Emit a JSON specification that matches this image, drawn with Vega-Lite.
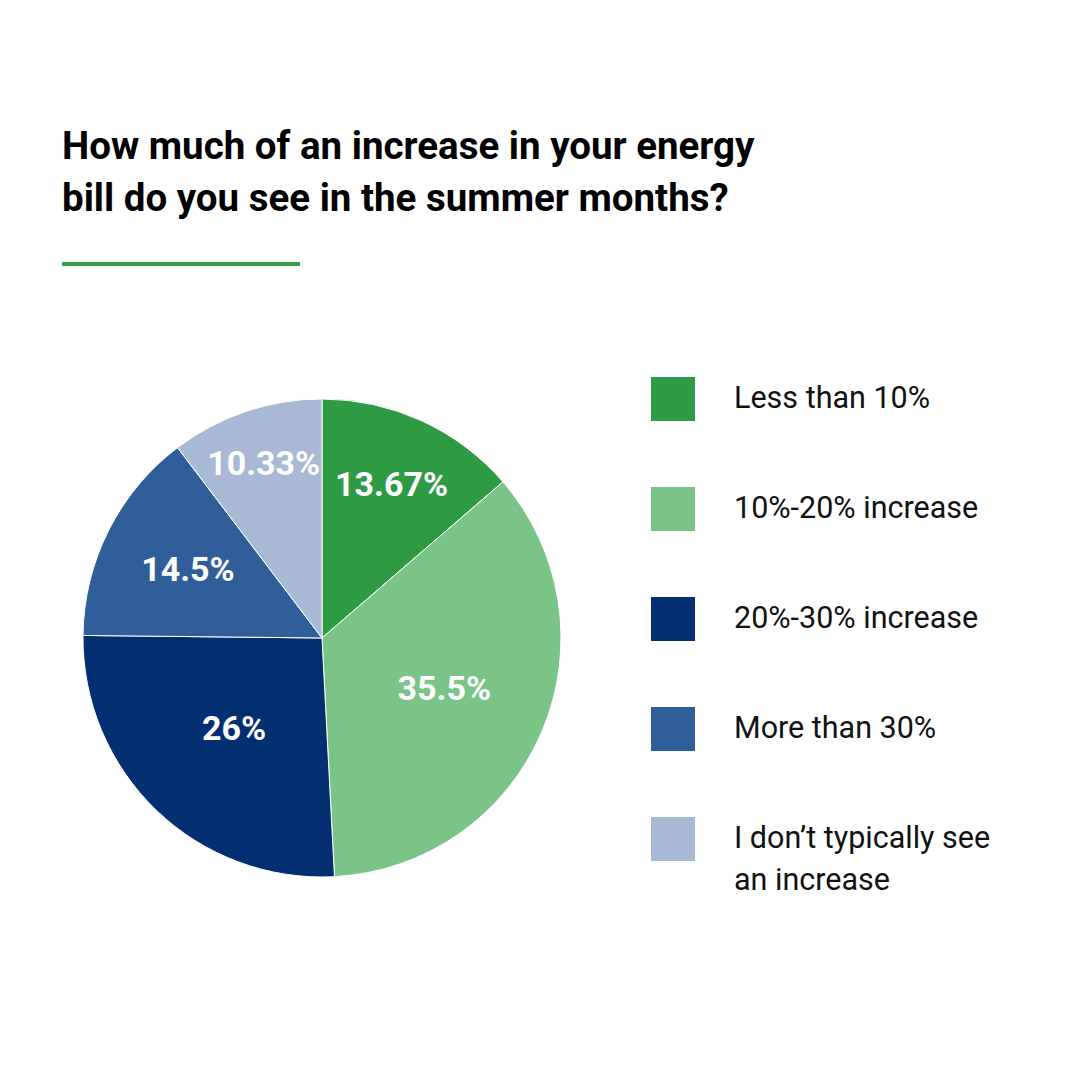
{
  "$schema": "https://vega.github.io/schema/vega-lite/v6.json",
  "background": "white",
  "padding": {"left": 62, "top": 127, "right": 0, "bottom": 0},
  "spacing": 110,
  "config": {"view": {"stroke": null}, "font": "Roboto", "style": {"guide-label": {"lineHeight": 42}}},
  "vconcat": [
    {
      "title": {
        "text": ["How much of an increase in your energy", "bill do you see in the summer months?"],
        "anchor": "start",
        "frame": "group",
        "font": "Roboto",
        "fontSize": 38.5,
        "fontWeight": "bold",
        "color": "#000000",
        "lineHeight": 52,
        "offset": 43
      },
      "width": 238,
      "height": 4,
      "data": {"values": [{}]},
      "mark": {"type": "rect", "color": "#35a04a"},
      "encoding": {
        "x": {"value": 0},
        "x2": {"value": "width"},
        "y": {"value": 0},
        "y2": {"value": "height"}
      }
    },
    {
      "width": 520,
      "height": 524,
      "data": {
        "values": [
          {"category": "Less than 10%", "value": 13.67, "label": "13.67%", "rank": 1},
          {"category": "10%-20% increase", "value": 35.5, "label": "35.5%", "rank": 2},
          {"category": "20%-30% increase", "value": 26, "label": "26%", "rank": 3},
          {"category": "More than 30%", "value": 14.5, "label": "14.5%", "rank": 4},
          {"category": "I don’t typically see an increase", "value": 10.33, "label": "10.33%", "rank": 5}
        ]
      },
      "encoding": {
        "theta": {"field": "value", "type": "quantitative", "stack": true},
        "order": {"field": "rank", "type": "quantitative"},
        "color": {
          "field": "category",
          "type": "nominal",
          "scale": {
            "domain": ["Less than 10%", "10%-20% increase", "20%-30% increase", "More than 30%", "I don’t typically see an increase"],
            "range": ["#2e9a44", "#7ac487", "#032e70", "#2f5e98", "#a8b9d5"]
          },
          "legend": {
            "orient": "none",
            "legendX": 589,
            "legendY": 115,
            "direction": "vertical",
            "title": null,
            "padding": 0,
            "symbolType": "square",
            "symbolSize": 1936,
            "symbolStrokeWidth": 0,
            "symbolOpacity": 1,
            "labelFont": "Roboto",
            "labelFontSize": 30.5,
            "labelColor": "#111111",
            "labelOffset": 39,
            "labelLimit": 500,
            "rowPadding": 66,
            "labelExpr": "datum.label == 'I don’t typically see an increase' ? ['I don’t typically see', 'an increase'] : datum.label"
          }
        }
      },
      "layer": [
        {"mark": {"type": "arc", "outerRadius": 239, "stroke": "white", "strokeWidth": 1}},
        {
          "mark": {"type": "text", "font": "Roboto", "fontSize": 34, "fontWeight": "bold", "fill": "white"},
          "encoding": {
            "text": {"field": "label", "type": "nominal"},
            "radius": {
              "field": "value",
              "type": "quantitative",
              "scale": {"type": "linear", "zero": false, "domain": [10.33, 13.67, 14.5, 26, 35.5], "range": [183, 167, 150, 127, 133]}
            },
            "color": {"value": "white"}
          }
        }
      ]
    }
  ]
}
